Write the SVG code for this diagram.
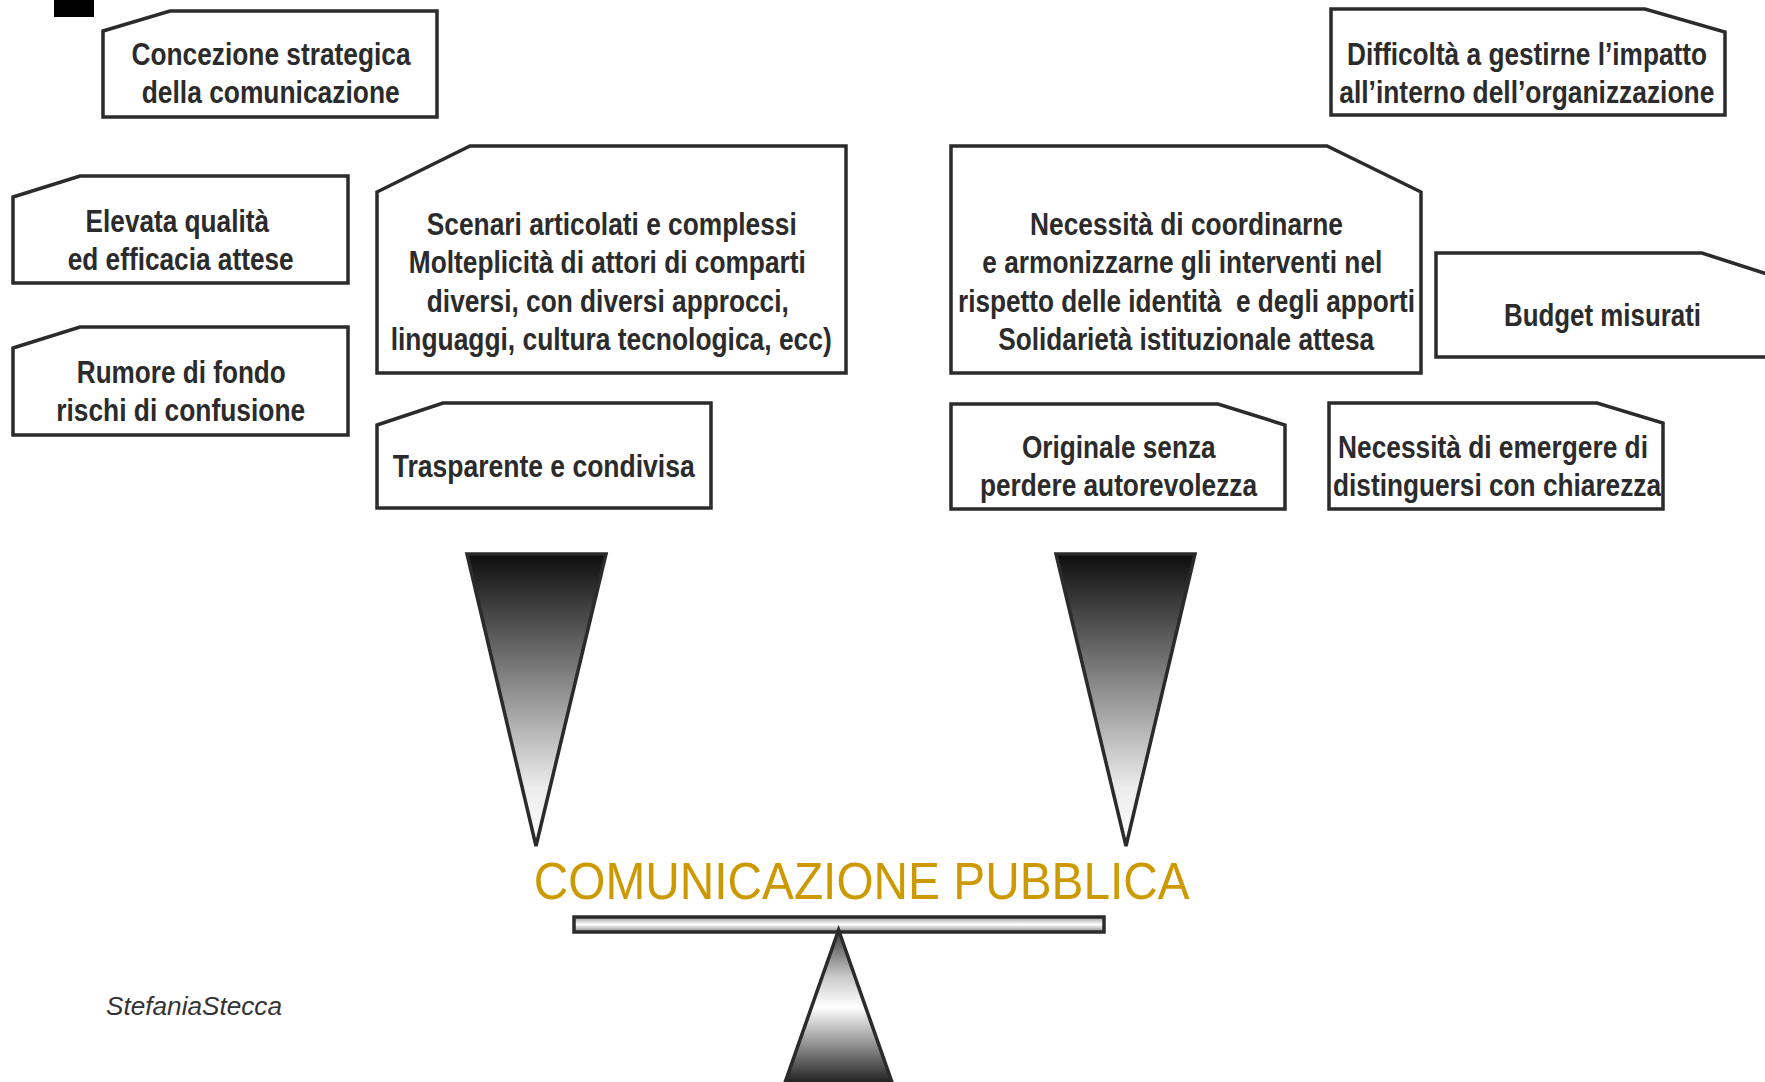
<svg xmlns="http://www.w3.org/2000/svg" width="1765" height="1082" viewBox="0 0 1765 1082">
<defs>
<style>
.box{fill:#fff;stroke:#2b2b2b;stroke-width:3.5;stroke-linejoin:miter}
.t{font-family:"Liberation Sans Narrow","Liberation Sans",Arial,sans-serif;font-weight:bold;font-size:31px;fill:#2b2b2b;text-anchor:middle}
.tri{stroke:#2b2b2b;stroke-width:3.5;stroke-linejoin:miter}
</style>
<linearGradient id="gDown" x1="0" y1="0" x2="0" y2="1">
<stop offset="0" stop-color="#0d0d0d"/>
<stop offset="0.45" stop-color="#8a8a8a"/>
<stop offset="0.8" stop-color="#ececec"/>
<stop offset="1" stop-color="#ffffff"/>
</linearGradient>
<linearGradient id="gBeam" x1="0" y1="0" x2="0" y2="1">
<stop offset="0" stop-color="#9a9a9a"/>
<stop offset="0.5" stop-color="#ffffff"/>
<stop offset="1" stop-color="#8a8a8a"/>
</linearGradient>
<linearGradient id="gFul" x1="0" y1="0" x2="0" y2="1">
<stop offset="0" stop-color="#3a3a3a"/>
<stop offset="0.3" stop-color="#c8c8c8"/>
<stop offset="0.5" stop-color="#ffffff"/>
<stop offset="1" stop-color="#1e1e1e"/>
</linearGradient>
</defs>
<rect width="1765" height="1082" fill="#ffffff"/>
<rect x="54" y="0" width="40" height="17" fill="#000"/>

<g id="n1">
<polygon class="box" points="103,31 170,11 437,11 437,117 103,117"/>
<text class="t" x="271" y="65" textLength="279" lengthAdjust="spacingAndGlyphs">Concezione strategica</text>
<text class="t" x="270.7" y="103" textLength="258" lengthAdjust="spacingAndGlyphs">della comunicazione</text>
</g>
<g id="n2">
<polygon class="box" points="13,197 80,176 348,176 348,283 13,283"/>
<text class="t" x="177.3" y="232" textLength="183.5" lengthAdjust="spacingAndGlyphs">Elevata qualità</text>
<text class="t" x="180.7" y="270" textLength="226" lengthAdjust="spacingAndGlyphs">ed efficacia attese</text>
</g>
<g id="n3">
<polygon class="box" points="13,348 80,327 348,327 348,435 13,435"/>
<text class="t" x="181.3" y="382.5" textLength="209" lengthAdjust="spacingAndGlyphs">Rumore di fondo</text>
<text class="t" x="180.7" y="421" textLength="249" lengthAdjust="spacingAndGlyphs">rischi di confusione</text>
</g>
<g id="n4">
<polygon class="box" points="377,192 470,146 846,146 846,373 377,373"/>
<text class="t" x="611.8" y="235" textLength="370" lengthAdjust="spacingAndGlyphs">Scenari articolati e complessi</text>
<text class="t" x="607.3" y="273" textLength="397" lengthAdjust="spacingAndGlyphs">Molteplicità di attori di comparti</text>
<text class="t" x="607.8" y="311.5" textLength="362" lengthAdjust="spacingAndGlyphs">diversi, con diversi approcci,</text>
<text class="t" x="611.2" y="350" textLength="441" lengthAdjust="spacingAndGlyphs">linguaggi, cultura tecnologica, ecc)</text>
</g>
<g id="n5">
<polygon class="box" points="377,425 443,403 711,403 711,508 377,508"/>
<text class="t" x="543.7" y="477" textLength="302" lengthAdjust="spacingAndGlyphs">Trasparente e condivisa</text>
</g>
<g id="n6">
<polygon class="box" points="951,146 1327,146 1421,192 1421,373 951,373"/>
<text class="t" x="1186.5" y="235" textLength="313" lengthAdjust="spacingAndGlyphs">Necessità di coordinarne</text>
<text class="t" x="1182.3" y="273" textLength="400" lengthAdjust="spacingAndGlyphs">e armonizzarne gli interventi nel</text>
<text class="t" x="1186.5" y="311.5" textLength="457" lengthAdjust="spacingAndGlyphs" xml:space="preserve">rispetto delle identità  e degli apporti</text>
<text class="t" x="1186.2" y="350" textLength="376" lengthAdjust="spacingAndGlyphs">Solidarietà istituzionale attesa</text>
</g>
<g id="n7">
<polygon class="box" points="951,404 1218,404 1285,425 1285,509 951,509"/>
<text class="t" x="1118.8" y="458" textLength="193.6" lengthAdjust="spacingAndGlyphs">Originale senza</text>
<text class="t" x="1118.5" y="496" textLength="277" lengthAdjust="spacingAndGlyphs">perdere autorevolezza</text>
</g>
<g id="n8">
<polygon class="box" points="1331,9 1645,9 1725,32 1725,115 1331,115"/>
<text class="t" x="1527" y="65" textLength="360" lengthAdjust="spacingAndGlyphs">Difficoltà a gestirne l’impatto</text>
<text class="t" x="1526.8" y="103" textLength="375" lengthAdjust="spacingAndGlyphs">all’interno dell’organizzazione</text>
</g>
<g id="n9">
<polygon class="box" points="1436,253 1702,253 1770,275 1770,357 1436,357"/>
<text class="t" x="1602.5" y="326" textLength="197" lengthAdjust="spacingAndGlyphs">Budget misurati</text>
</g>
<g id="n10">
<polygon class="box" points="1329,403 1597,403 1663,423 1663,509 1329,509"/>
<text class="t" x="1493" y="458" textLength="310" lengthAdjust="spacingAndGlyphs">Necessità di emergere di</text>
<text class="t" x="1497" y="496" textLength="328" lengthAdjust="spacingAndGlyphs">distinguersi con chiarezza</text>
</g>

<g id="connectors">
<polygon class="tri" fill="url(#gDown)" points="467,554 606,554 536,846"/>
<polygon class="tri" fill="url(#gDown)" points="1056,554 1195,554 1126,846"/>
</g>

<g id="balance">
<text x="861.7" y="899" font-family="'Liberation Sans Narrow','Liberation Sans',Arial,sans-serif" font-size="52" fill="#cc9a00" text-anchor="middle" textLength="656" lengthAdjust="spacingAndGlyphs">COMUNICAZIONE PUBBLICA</text>
<rect x="574" y="917" width="530" height="15" fill="url(#gBeam)" stroke="#2b2b2b" stroke-width="3.5"/>
<polygon class="tri" fill="url(#gFul)" points="838.6,930 892.6,1084 784.5,1084"/>
</g>

<text x="106" y="1015" font-family="'Liberation Sans',Arial,sans-serif" font-style="italic" font-size="25" fill="#333" textLength="176" lengthAdjust="spacingAndGlyphs">StefaniaStecca</text>
</svg>
